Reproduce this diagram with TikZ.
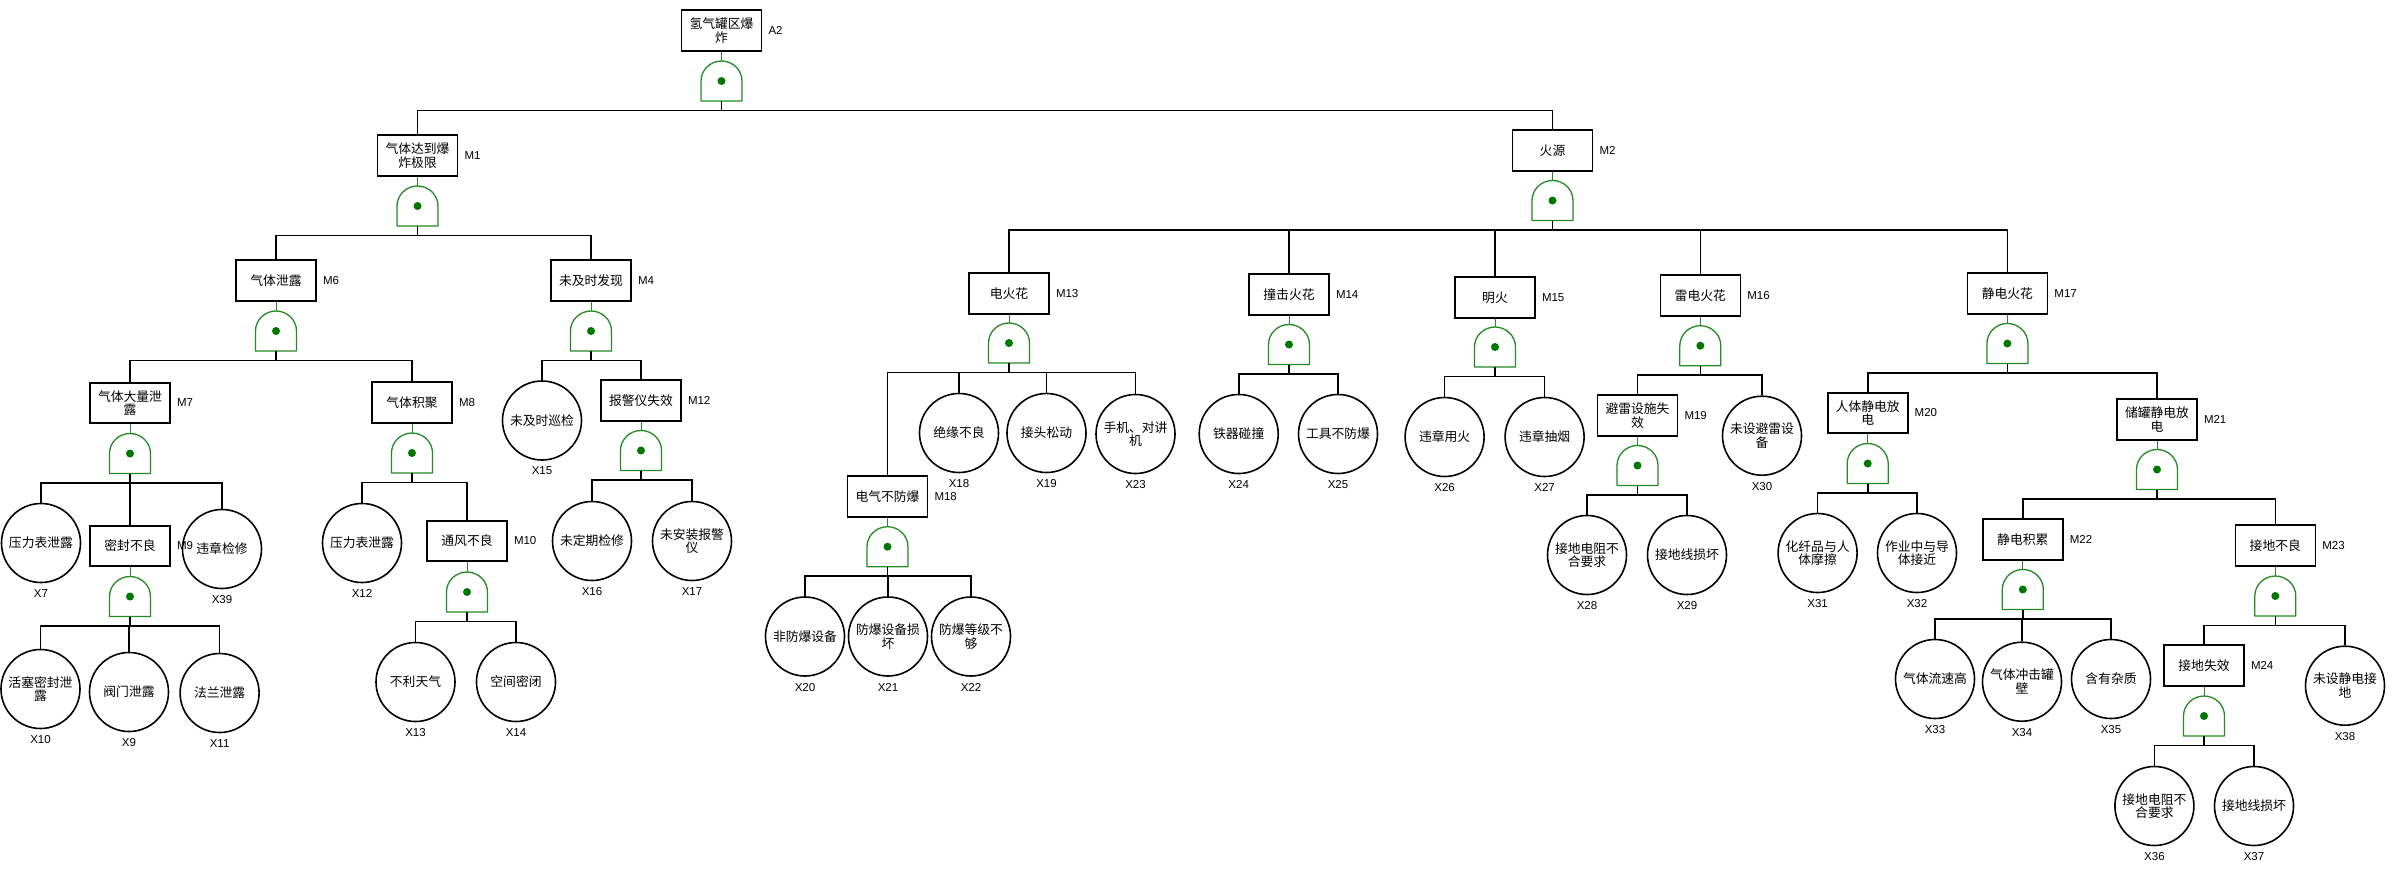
\documentclass[tikz,border=0pt]{standalone}
\usepackage{fontspec}
\setmainfont{Liberation Sans}
\newfontfamily\cjk{Noto Sans CJK SC}
\usetikzlibrary{calc,positioning}
\definecolor{gategreen}{RGB}{34,139,34}
\definecolor{dotgreen}{RGB}{0,120,0}

% AND gate: name, centre
\newcommand{\andgate}[2]{%
  \node[gatenode] (#1) at (#2) {};
  \draw[gateline] (#1.south west) -- (#1.west)
    .. controls ($(#1.west)+(0,-11)$) and ($(#1.north)+(-11.3,0)$) .. (#1.north)
    .. controls ($(#1.north)+(11.3,0)$) and ($(#1.east)+(0,-11)$) .. (#1.east)
    -- (#1.south east) -- cycle;
  \fill[dotgreen] (#1.center) circle (4);
}

\begin{document}
\begin{tikzpicture}[x=1pt, y=-1pt,
  event/.style={draw, line width=1.6pt, rectangle, minimum width=80pt,
    minimum height=40.5pt, inner sep=1pt, align=center,
    font=\cjk\fontsize{12.8}{13.6}\selectfont},
  basic/.style={draw, line width=1.6pt, circle, minimum size=79pt,
    inner sep=1pt, align=center, font=\cjk\fontsize{12.8}{13.6}\selectfont},
  gatenode/.style={minimum width=41pt, minimum height=40pt, inner sep=0pt,
    outer sep=0pt},
  gateline/.style={draw=gategreen, line width=1.3pt, line join=round},
  gatewire/.style={gategreen, line width=1pt},
  conn/.style={line width=1.6pt},
  idlab/.style={font=\fontsize{11.5}{12}\selectfont, inner sep=1pt}]
  \useasboundingbox (0,0) rectangle (2394,886);
  \fill[white] (0,0) rectangle (2394,886);

  % Top event
  \node[event] (a2) at (721.5,30.5) {氢气罐区爆\\炸};
  \andgate{ga2}{721.5,81}
  \draw[gatewire] (a2.south) -- (ga2.north);
  \node[event] (m1) at (417.5,155.5) {气体达到爆\\炸极限};
  \node[event] (m2) at (1552.5,150.5) {火源};
  \foreach \c in {m1,m2} \draw[conn] (ga2.south) -- ++(0,9.5) -| (\c.north);

  % M1: gas reaches the limit
  \andgate{gm1}{417.5,206}
  \draw[gatewire] (m1.south) -- (gm1.north);
  \node[event] (m6) at (276,280.5) {气体泄露};
  \node[event] (m4) at (591,280.5) {未及时发现};
  \foreach \c in {m6,m4} \draw[conn] (gm1.south) -- ++(0,9.5) -| (\c.north);

  % M6
  \andgate{gm6}{276,331}
  \draw[gatewire] (m6.south) -- (gm6.north);
  \node[event] (m7) at (130,403) {气体大量泄\\露};
  \node[event] (m8) at (412,402.5) {气体积聚};
  \foreach \c in {m7,m8} \draw[conn] (gm6.south) -- ++(0,9.5) -| (\c.north);

  % M7
  \andgate{gm7}{130,453.5}
  \draw[gatewire] (m7.south) -- (gm7.north);
  \node[basic] (x7) at (41,543) {压力表泄露};
  \node[event] (m9) at (130,546) {密封不良};
  \node[basic] (x39) at (222,549) {违章检修};
  \foreach \c in {x7,m9,x39} \draw[conn] (gm7.south) -- ++(0,9.5) -| (\c.north);

  % M9
  \andgate{gm9}{130,596.5}
  \draw[gatewire] (m9.south) -- (gm9.north);
  \node[basic] (x10) at (40.5,689) {活塞密封泄\\露};
  \node[basic] (x9) at (129,692) {阀门泄露};
  \node[basic] (x11) at (219.6,693) {法兰泄露};
  \foreach \c in {x10,x9,x11} \draw[conn] (gm9.south) -- ++(0,9.5) -| (\c.north);

  % M8
  \andgate{gm8}{412,453}
  \draw[gatewire] (m8.south) -- (gm8.north);
  \node[basic] (x12) at (362,543) {压力表泄露};
  \node[event] (m10) at (467,541) {通风不良};
  \foreach \c in {x12,m10} \draw[conn] (gm8.south) -- ++(0,9.5) -| (\c.north);

  % M10
  \andgate{gm10}{467,592}
  \draw[gatewire] (m10.south) -- (gm10.north);
  \node[basic] (x13) at (415.5,682) {不利天气};
  \node[basic] (x14) at (516,682) {空间密闭};
  \foreach \c in {x13,x14} \draw[conn] (gm10.south) -- ++(0,9.5) -| (\c.north);

  % M4
  \andgate{gm4}{591,331}
  \draw[gatewire] (m4.south) -- (gm4.north);
  \node[basic] (x15) at (542,420.5) {未及时巡检};
  \node[event] (m12) at (641,400.5) {报警仪失效};
  \foreach \c in {x15,m12} \draw[conn] (gm4.south) -- ++(0,9.5) -| (\c.north);

  % M12
  \andgate{gm12}{641,450.5}
  \draw[gatewire] (m12.south) -- (gm12.north);
  \node[basic] (x16) at (592,541) {未定期检修};
  \node[basic] (x17) at (692,541) {未安装报警\\仪};
  \foreach \c in {x16,x17} \draw[conn] (gm12.south) -- ++(0,9.5) -| (\c.north);

  % M2: ignition sources
  \andgate{gm2}{1552.5,200.5}
  \draw[gatewire] (m2.south) -- (gm2.north);
  \node[event] (m13) at (1009,293.5) {电火花};
  \node[event] (m14) at (1289,294.5) {撞击火花};
  \node[event] (m15) at (1495,297.5) {明火};
  \node[event] (m16) at (1700.3,295.5) {雷电火花};
  \node[event] (m17) at (2007.4,293.5) {静电火花};
  \foreach \c in {m13,m14,m15,m16,m17}
    \draw[conn] (gm2.south) -- ++(0,9.5) -| (\c.north);

  % M13
  \andgate{gm13}{1009,343}
  \draw[gatewire] (m13.south) -- (gm13.north);
  \node[event] (m18) at (887.5,496.5) {电气不防爆};
  \node[basic] (x18) at (959,433) {绝缘不良};
  \node[basic] (x19) at (1046.5,433) {接头松动};
  \node[basic] (x23) at (1135.5,434) {手机、对讲\\机};
  \foreach \c in {m18,x18,x19,x23}
    \draw[conn] (gm13.south) -- ++(0,9.5) -| (\c.north);

  % M18
  \andgate{gm18}{887.5,546.7}
  \draw[gatewire] (m18.south) -- (gm18.north);
  \node[basic] (x20) at (805,636.5) {非防爆设备};
  \node[basic] (x21) at (888,636.5) {防爆设备损\\坏};
  \node[basic] (x22) at (971,636.5) {防爆等级不\\够};
  \foreach \c in {x20,x21,x22} \draw[conn] (gm18.south) -- ++(0,9.5) -| (\c.north);

  % M14
  \andgate{gm14}{1289,344.5}
  \draw[gatewire] (m14.south) -- (gm14.north);
  \node[basic] (x24) at (1238.7,434) {铁器碰撞};
  \node[basic] (x25) at (1338,434) {工具不防爆};
  \foreach \c in {x24,x25} \draw[conn] (gm14.south) -- ++(0,9.5) -| (\c.north);

  % M15
  \andgate{gm15}{1495,347}
  \draw[gatewire] (m15.south) -- (gm15.north);
  \node[basic] (x26) at (1444.6,437) {违章用火};
  \node[basic] (x27) at (1544.6,437) {违章抽烟};
  \foreach \c in {x26,x27} \draw[conn] (gm15.south) -- ++(0,9.5) -| (\c.north);

  % M16
  \andgate{gm16}{1700.3,345.7}
  \draw[gatewire] (m16.south) -- (gm16.north);
  \node[event] (m19) at (1637.5,415.5) {避雷设施失\\效};
  \node[basic] (x30) at (1762,435.7) {未设避雷设\\备};
  \foreach \c in {m19,x30} \draw[conn] (gm16.south) -- ++(0,9.5) -| (\c.north);

  % M19
  \andgate{gm19}{1637.5,465.5}
  \draw[gatewire] (m19.south) -- (gm19.north);
  \node[basic] (x28) at (1587,555) {接地电阻不\\合要求};
  \node[basic] (x29) at (1687,555) {接地线损坏};
  \foreach \c in {x28,x29} \draw[conn] (gm19.south) -- ++(0,9.5) -| (\c.north);

  % M17
  \andgate{gm17}{2007.4,343.5}
  \draw[gatewire] (m17.south) -- (gm17.north);
  \node[event] (m20) at (1867.7,413) {人体静电放\\电};
  \node[event] (m21) at (2157,419.5) {储罐静电放\\电};
  \foreach \c in {m20,m21} \draw[conn] (gm17.south) -- ++(0,9.5) -| (\c.north);

  % M20
  \andgate{gm20}{1867.7,463.5}
  \draw[gatewire] (m20.south) -- (gm20.north);
  \node[basic] (x31) at (1817.6,553) {化纤品与人\\体摩擦};
  \node[basic] (x32) at (1917,553) {作业中与导\\体接近};
  \foreach \c in {x31,x32} \draw[conn] (gm20.south) -- ++(0,9.5) -| (\c.north);

  % M21
  \andgate{gm21}{2157,469.5}
  \draw[gatewire] (m21.south) -- (gm21.north);
  \node[event] (m22) at (2022.8,539.5) {静电积累};
  \node[event] (m23) at (2275.3,545.5) {接地不良};
  \foreach \c in {m22,m23} \draw[conn] (gm21.south) -- ++(0,9.5) -| (\c.north);

  % M22
  \andgate{gm22}{2022.8,589.5}
  \draw[gatewire] (m22.south) -- (gm22.north);
  \node[basic] (x33) at (1935,679) {气体流速高};
  \node[basic] (x34) at (2022,681.7) {气体冲击罐\\壁};
  \node[basic] (x35) at (2111,679) {含有杂质};
  \foreach \c in {x33,x34,x35} \draw[conn] (gm22.south) -- ++(0,9.5) -| (\c.north);

  % M23
  \andgate{gm23}{2275.3,596}
  \draw[gatewire] (m23.south) -- (gm23.north);
  \node[event] (m24) at (2204,665.5) {接地失效};
  \node[basic] (x38) at (2345,685.7) {未设静电接\\地};
  \foreach \c in {m24,x38} \draw[conn] (gm23.south) -- ++(0,9.5) -| (\c.north);

  % M24
  \andgate{gm24}{2204,716}
  \draw[gatewire] (m24.south) -- (gm24.north);
  \node[basic] (x36) at (2154.4,806) {接地电阻不\\合要求};
  \node[basic] (x37) at (2254,806) {接地线损坏};
  \foreach \c in {x36,x37} \draw[conn] (gm24.south) -- ++(0,9.5) -| (\c.north);

  % event numbers
  \foreach \n/\t in {a2/A2, m1/M1, m2/M2, m4/M4, m6/M6, m7/M7, m8/M8, m9/M9,
      m10/M10, m12/M12, m13/M13, m14/M14, m15/M15, m16/M16, m17/M17, m18/M18,
      m19/M19, m20/M20, m21/M21, m22/M22, m23/M23, m24/M24}
    \node[idlab, right=5pt of \n] (l\n) {\t};
  \foreach \n/\t in {x7/X7, x9/X9, x10/X10, x11/X11, x12/X12, x13/X13,
      x14/X14, x15/X15, x16/X16, x17/X17, x18/X18, x19/X19, x20/X20, x21/X21,
      x22/X22, x23/X23, x24/X24, x25/X25, x26/X26, x27/X27, x28/X28, x29/X29,
      x30/X30, x31/X31, x32/X32, x33/X33, x34/X34, x35/X35, x36/X36, x37/X37,
      x38/X38, x39/X39}
    \node[idlab, below=5pt of \n] (l\n) {\t};
\end{tikzpicture}
\end{document}
